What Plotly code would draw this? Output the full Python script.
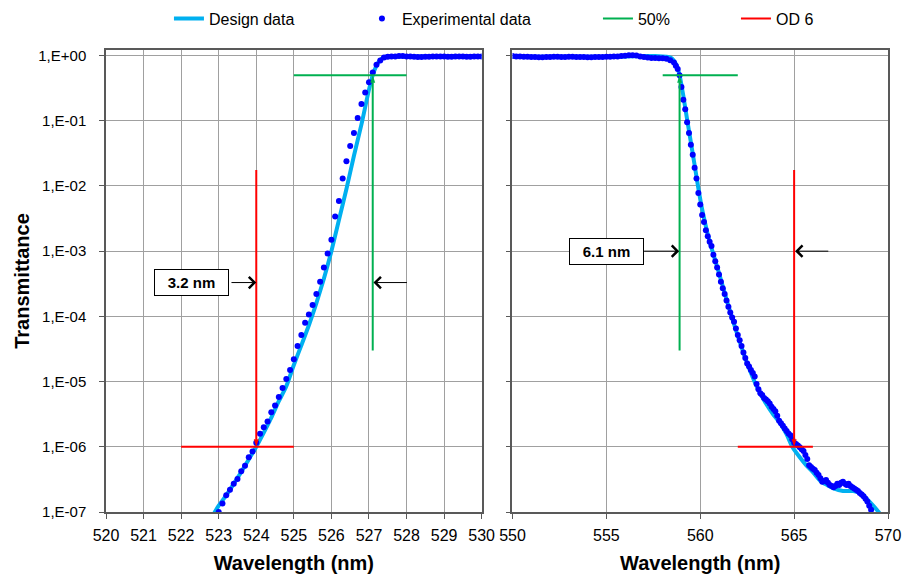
import math
import plotly.graph_objects as go

# ---------------- data ----------------
# Left panel (long-wave edge of notch, 520-530 nm)
design_left_nm = [522.8, 523.0, 523.2, 523.4, 523.6, 523.8, 524.0, 524.2, 524.4, 524.6, 524.8,
                  525.0, 525.2, 525.4, 525.6, 525.8, 526.0, 526.2, 526.4, 526.6, 526.8, 527.0,
                  527.1, 527.2, 527.3, 527.4, 527.5, 527.7, 528.0, 528.5, 529.0, 529.5, 530.0]
design_left_T = [8e-8, 1.25e-7, 1.8e-7, 2.7e-7, 4.1e-7, 6.4e-7, 1.0e-6, 1.65e-6, 2.8e-6, 5.0e-6, 8.5e-6,
                 1.8e-5, 3.6e-5, 7.3e-5, 1.6e-4, 3.8e-4, 1.0e-3, 3.0e-3, 9.0e-3, 2.9e-2, 8.8e-2, 0.30,
                 0.50, 0.70, 0.86, 0.94, 0.965, 0.97, 0.97, 0.97, 0.97, 0.97, 0.97]

exp_left_nm = [523.0, 523.1, 523.2, 523.3, 523.4, 523.5, 523.6, 523.7, 523.8, 523.9,
               524.0, 524.1, 524.2, 524.3, 524.4, 524.5, 524.6, 524.7, 524.8, 524.9,
               525.0, 525.1, 525.2, 525.3, 525.4, 525.5, 525.6, 525.7, 525.8, 525.9,
               526.0, 526.1, 526.2, 526.3, 526.4, 526.5, 526.6, 526.7, 526.8, 526.9,
               527.0, 527.1, 527.2, 527.3, 527.4, 527.5, 527.6, 527.7, 527.8, 527.9,
               528.0, 528.1, 528.2, 528.3, 528.4, 528.5, 528.6, 528.7, 528.8, 528.9,
               529.0, 529.1, 529.2, 529.3, 529.4, 529.5, 529.6, 529.7, 529.8, 529.9, 530.0]
exp_left_T = [1.0e-7, 1.35e-7, 1.8e-7, 2.2e-7, 2.7e-7, 3.2e-7, 4.2e-7, 5.1e-7, 6.9e-7, 8.5e-7,
              1.15e-6, 1.58e-6, 2.0e-6, 2.45e-6, 3.4e-6, 4.3e-6, 5.8e-6, 8.0e-6, 1.1e-5, 1.5e-5,
              2.2e-5, 3.5e-5, 5.2e-5, 8.0e-5, 1.07e-4, 1.5e-4, 2.2e-4, 3.4e-4, 5.6e-4, 9.2e-4,
              1.5e-3, 3.4e-3, 5.9e-3, 1.3e-2, 2.4e-2, 4.1e-2, 6.5e-2, 0.11, 0.18, 0.27,
              0.39, 0.55, 0.72, 0.84, 0.93, 0.96, 0.97, 0.97, 0.98, 0.98,
              0.97, 0.97, 0.96, 0.95, 0.95, 0.96, 0.96, 0.97, 0.97, 0.97,
              0.97, 0.96, 0.96, 0.97, 0.97, 0.97, 0.96, 0.96, 0.97, 0.97, 0.97]

# Right panel (short-wave edge, 550-570 nm)
design_right_nm = [550.0, 551.0, 552.0, 553.0, 554.0, 555.0, 556.0, 557.0, 557.6, 558.0, 558.3,
                   558.5, 558.7, 558.9, 559.1, 559.3, 559.5, 559.7, 559.9, 560.1, 560.3, 560.5,
                   560.7, 561.0, 561.5, 562.0, 562.5, 563.0, 563.5, 563.9, 564.25, 564.6, 564.9,
                   565.3, 565.65, 566.0, 566.4, 566.75, 567.1, 567.6, 568.15, 568.6, 569.05,
                   569.5, 569.7]
design_right_T = [0.96, 0.96, 0.96, 0.96, 0.96, 0.96, 0.97, 0.98, 0.98, 0.97, 0.95,
                  0.90, 0.75, 0.50, 0.24, 0.105, 0.047, 0.021, 0.0092, 0.0044, 0.0024, 0.0014,
                  9.0e-4, 4.6e-4, 1.45e-4, 5.0e-5, 1.9e-5, 8.5e-6, 4.6e-6, 3.1e-6, 2.3e-6, 1.55e-6, 1.0e-6,
                  6.9e-7, 5.2e-7, 4.1e-7, 3.0e-7, 2.6e-7, 2.3e-7, 2.1e-7, 2.1e-7, 1.9e-7, 1.4e-7,
                  1.0e-7, 8.0e-8]

exp_right_nm = [550.0, 550.2, 550.4, 550.6, 550.8, 551.0, 551.2, 551.4, 551.6, 551.8,
                552.0, 552.2, 552.4, 552.6, 552.8, 553.0, 553.2, 553.4, 553.6, 553.8,
                554.0, 554.2, 554.4, 554.6, 554.8, 555.0, 555.2, 555.4, 555.6, 555.8,
                556.0, 556.2, 556.4, 556.6, 556.8, 557.0, 557.2, 557.4, 557.6, 557.8,
                558.0, 558.2, 558.4, 558.6, 558.7, 558.8, 558.9,
                559.0, 559.1, 559.2, 559.3, 559.4, 559.5, 559.6, 559.7, 559.8, 559.9,
                560.0, 560.1, 560.2, 560.3, 560.4, 560.5, 560.6, 560.7, 560.8, 560.9,
                561.0, 561.1, 561.2, 561.3, 561.4, 561.5, 561.6, 561.7, 561.8, 561.9,
                562.0, 562.1, 562.2, 562.3, 562.4, 562.5, 562.6, 562.7, 562.8, 562.9,
                563.0, 563.1, 563.2, 563.3, 563.4, 563.5, 563.6, 563.7, 563.8, 563.9,
                564.0, 564.1, 564.2, 564.3, 564.4, 564.5, 564.6, 564.7, 564.8, 564.9,
                565.0, 565.1, 565.2, 565.3, 565.4, 565.5, 565.6, 565.7, 565.8, 565.9,
                566.0, 566.1, 566.2, 566.3, 566.4, 566.5, 566.6, 566.7, 566.8, 566.9,
                567.0, 567.1, 567.2, 567.3, 567.4, 567.5, 567.6, 567.7, 567.8, 567.9,
                568.0, 568.1, 568.2, 568.3, 568.4, 568.5, 568.6, 568.7, 568.8, 568.9,
                569.0, 569.1]
exp_right_T = [0.98, 0.97, 0.97, 0.96, 0.96, 0.95, 0.95, 0.94, 0.94, 0.95,
               0.95, 0.96, 0.96, 0.95, 0.95, 0.96, 0.96, 0.95, 0.95, 0.95,
               0.94, 0.94, 0.95, 0.95, 0.95, 0.96, 0.96, 0.97, 0.97, 0.98,
               0.99, 1.01, 1.01, 1.0, 0.97, 0.95, 0.93, 0.92, 0.92, 0.91,
               0.91, 0.89, 0.85, 0.78, 0.70, 0.62, 0.50,
               0.33, 0.21, 0.15, 0.095, 0.065, 0.043, 0.030, 0.019, 0.013, 0.0078,
               0.0052, 0.0036, 0.0028, 0.0021, 0.0017, 0.0014, 0.0012, 8.8e-4, 7.0e-4, 5.6e-4,
               4.4e-4, 3.4e-4, 2.7e-4, 2.2e-4, 1.75e-4, 1.4e-4, 1.15e-4, 9.6e-5, 8.3e-5, 6.5e-5,
               5.2e-5, 4.3e-5, 3.5e-5, 2.8e-5, 2.3e-5, 1.9e-5, 1.7e-5, 1.5e-5, 1.35e-5, 1.2e-5,
               9.2e-6, 7.6e-6, 6.6e-6, 6.2e-6, 5.6e-6, 5.3e-6, 5.0e-6, 4.6e-6, 4.1e-6, 3.8e-6,
               3.5e-6, 3.0e-6, 2.5e-6, 2.3e-6, 2.1e-6, 1.9e-6, 1.75e-6, 1.6e-6, 1.5e-6, 1.3e-6,
               1.15e-6, 1.1e-6, 1.05e-6, 9.8e-7, 9.2e-7, 8.6e-7, 7.5e-7, 6.5e-7, 5.2e-7, 4.9e-7,
               4.6e-7, 4.4e-7, 4.0e-7, 3.7e-7, 3.3e-7, 2.9e-7, 3.0e-7, 3.1e-7, 2.8e-7, 2.6e-7,
               2.5e-7, 2.4e-7, 2.5e-7, 2.7e-7, 2.6e-7, 2.8e-7, 2.9e-7, 2.7e-7, 2.6e-7, 2.7e-7,
               2.5e-7, 2.4e-7, 2.3e-7, 2.2e-7, 2.1e-7, 1.95e-7, 1.85e-7, 1.75e-7, 1.6e-7, 1.45e-7,
               1.25e-7, 1.08e-7]

# 50% / OD 6 marker lines
half_left_h_nm = [525.0, 528.0]
half_left_v_nm = [527.1, 527.1]
half_left_v_T = [3.0e-5, 0.5]
od6_left_h_nm = [522.0, 525.0]
od6_left_v_nm = [524.0, 524.0]
od6_left_v_T = [1.75e-2, 1.0e-6]

half_right_h_nm = [558.0, 562.0]
half_right_v_nm = [558.9, 558.9]
half_right_v_T = [3.0e-5, 0.5]
od6_right_h_nm = [562.0, 566.0]
od6_right_v_nm = [565.0, 565.0]
od6_right_v_T = [1.75e-2, 1.0e-6]

HALF = 0.5
OD6 = 1.0e-6

y_tickvals = [1e-7, 1e-6, 1e-5, 1e-4, 1e-3, 1e-2, 1e-1, 1]
y_ticktext = ['1,E-07', '1,E-06', '1,E-05', '1,E-04', '1,E-03', '1,E-02', '1,E-01', '1,E+00']

# ---------------- styling ----------------
FONT = "Liberation Sans, Arial, sans-serif"
CYAN = '#00B0F0'
BLUE = '#0000FF'
GREEN = '#00B050'
RED = '#FF0000'
GRID = '#A0A0A0'
FRAME = '#595959'

fig = go.Figure()

# Legend-bearing traces (left panel)
fig.add_trace(go.Scatter(x=design_left_nm, y=design_left_T, mode='lines', name='Design data',
                         line=dict(color=CYAN, width=4, shape='spline', smoothing=0.6),
                         xaxis='x', yaxis='y', legendwidth=148))
fig.add_trace(go.Scatter(x=exp_left_nm, y=exp_left_T, mode='markers', name='Experimental data',
                         marker=dict(color=BLUE, size=6), xaxis='x', yaxis='y', legendwidth=191))
fig.add_trace(go.Scatter(x=half_left_h_nm, y=[HALF, HALF], mode='lines', name='50%',
                         line=dict(color=GREEN, width=2), xaxis='x', yaxis='y', legendwidth=93))
fig.add_trace(go.Scatter(x=od6_left_h_nm, y=[OD6, OD6], mode='lines', name='OD 6',
                         line=dict(color=RED, width=2), xaxis='x', yaxis='y', legendwidth=40))
# vertical markers with arrowheads
fig.add_trace(go.Scatter(x=half_left_v_nm, y=half_left_v_T, mode='lines+markers', showlegend=False,
                         line=dict(color=GREEN, width=2),
                         marker=dict(symbol='arrow', angleref='previous', size=8, color=GREEN),
                         xaxis='x', yaxis='y'))
fig.add_trace(go.Scatter(x=od6_left_v_nm, y=od6_left_v_T, mode='lines+markers', showlegend=False,
                         line=dict(color=RED, width=2),
                         marker=dict(symbol='arrow', angleref='previous', size=8, color=RED),
                         xaxis='x', yaxis='y'))

# Right panel
fig.add_trace(go.Scatter(x=design_right_nm, y=design_right_T, mode='lines', showlegend=False,
                         line=dict(color=CYAN, width=4, shape='spline', smoothing=0.6),
                         xaxis='x2', yaxis='y2'))
fig.add_trace(go.Scatter(x=exp_right_nm, y=exp_right_T, mode='markers', showlegend=False,
                         marker=dict(color=BLUE, size=6), xaxis='x2', yaxis='y2'))
fig.add_trace(go.Scatter(x=half_right_h_nm, y=[HALF, HALF], mode='lines', showlegend=False,
                         line=dict(color=GREEN, width=2), xaxis='x2', yaxis='y2'))
fig.add_trace(go.Scatter(x=od6_right_h_nm, y=[OD6, OD6], mode='lines', showlegend=False,
                         line=dict(color=RED, width=2), xaxis='x2', yaxis='y2'))
fig.add_trace(go.Scatter(x=half_right_v_nm, y=half_right_v_T, mode='lines+markers', showlegend=False,
                         line=dict(color=GREEN, width=2),
                         marker=dict(symbol='arrow', angleref='previous', size=8, color=GREEN),
                         xaxis='x2', yaxis='y2'))
fig.add_trace(go.Scatter(x=od6_right_v_nm, y=od6_right_v_T, mode='lines+markers', showlegend=False,
                         line=dict(color=RED, width=2),
                         marker=dict(symbol='arrow', angleref='previous', size=8, color=RED),
                         xaxis='x2', yaxis='y2'))

# ---------------- annotations ----------------
ann = []
ann.append(dict(x=522.28, y=math.log10(3.3e-4), xref='x', yref='y', text='<b>3.2 nm</b>',
                showarrow=False, font=dict(family=FONT, size=15, color='black'),
                bgcolor='white', bordercolor='black', borderwidth=1, borderpad=1, width=71, height=23))
ann.append(dict(x=555.0, y=math.log10(1.0e-3), xref='x2', yref='y2', text='<b>6.1 nm</b>',
                showarrow=False, font=dict(family=FONT, size=15, color='black'),
                bgcolor='white', bordercolor='black', borderwidth=1, borderpad=1, width=71, height=23))
arrow_style = dict(text='', showarrow=True, arrowhead=4, arrowsize=2.2, arrowwidth=1, arrowcolor='black')
ann.append(dict(x=524.0, y=math.log10(3.3e-4), ax=523.3, ay=math.log10(3.3e-4),
                xref='x', yref='y', axref='x', ayref='y', **arrow_style))
ann.append(dict(x=527.12, y=math.log10(3.3e-4), ax=528.05, ay=math.log10(3.3e-4),
                xref='x', yref='y', axref='x', ayref='y', **arrow_style))
ann.append(dict(x=558.88, y=math.log10(1.0e-3), ax=556.93, ay=math.log10(1.0e-3),
                xref='x2', yref='y2', axref='x2', ayref='y2', **arrow_style))
ann.append(dict(x=565.05, y=math.log10(1.0e-3), ax=566.9, ay=math.log10(1.0e-3),
                xref='x2', yref='y2', axref='x2', ayref='y2', **arrow_style))

axis_common = dict(showline=True, mirror=True, linecolor=FRAME, linewidth=1.5,
                   showgrid=True, gridcolor=GRID, gridwidth=1.2,
                   ticks='outside', ticklen=5, tickcolor=FRAME, zeroline=False)

fig.update_layout(
    width=904, height=574,
    margin=dict(l=106, r=16, t=50, b=62, autoexpand=False),
    paper_bgcolor='white', plot_bgcolor='white',
    font=dict(family=FONT, size=16, color='black'),
    showlegend=True,
    legend=dict(orientation='h', x=0.0805, xanchor='left', y=1.068, yanchor='middle',
                itemwidth=30, font=dict(family=FONT, size=16, color='black'),
                bgcolor='rgba(0,0,0,0)', traceorder='normal'),
    xaxis=dict(domain=[0, 0.4804], range=[520, 530], dtick=1, tick0=520,
               tickfont=dict(family=FONT, size=16, color='black'), ticklabelstandoff=3,
               title=dict(text='<b>Wavelength (nm)</b>', font=dict(family=FONT, size=20), standoff=13),
               anchor='y', **axis_common),
    xaxis2=dict(domain=[0.5198, 1], range=[550, 570], dtick=5, tick0=550,
                tickfont=dict(family=FONT, size=16, color='black'), ticklabelstandoff=3,
                title=dict(text='<b>Wavelength (nm)</b>', font=dict(family=FONT, size=20), standoff=13),
                anchor='y2', **axis_common),
    yaxis=dict(type='log', range=[-7, 0.085], tickvals=y_tickvals, ticktext=y_ticktext,
               tickfont=dict(family=FONT, size=15, color='black'), ticklabelstandoff=10,
               title=dict(text='<b>Transmittance</b>', font=dict(family=FONT, size=20), standoff=3),
               anchor='x', **axis_common),
    yaxis2=dict(type='log', range=[-7, 0.085], tickvals=y_tickvals, showticklabels=False,
                anchor='x2', matches='y', **axis_common),
    annotations=ann,
)

fig.write_html("out.html", config={'displayModeBar': False},
               post_script="document.body.style.margin='0px';")
